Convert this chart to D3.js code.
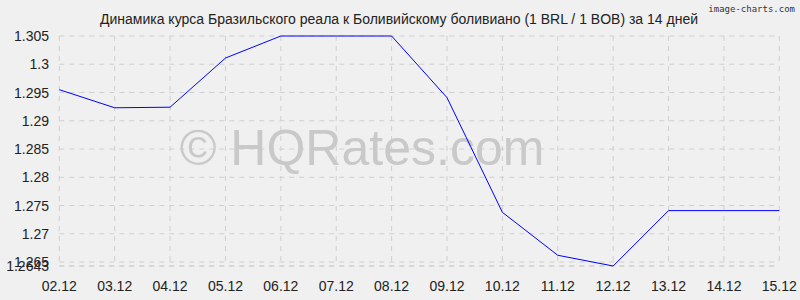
<!DOCTYPE html>
<meta charset="utf-8">
<style>
    body { margin: 0; background: #f0f0f0; }
    text { font-family: "Liberation Sans", Arial, sans-serif; }
    .grid line { stroke: #cfcfcf; stroke-dasharray: 5,5; }
</style>
<svg width="800" height="300"></svg>
<script src="https://cdn.jsdelivr.net/npm/d3@7"></script>
<script>

    var dates = ["02.12", "03.12", "04.12", "05.12", "06.12", "07.12", "08.12",
        "09.12", "10.12", "11.12", "12.12", "13.12", "14.12", "15.12"];
    var rates = [1.2955, 1.2923, 1.2924, 1.3011, 1.305, 1.305, 1.305,
        1.2941, 1.2738, 1.2662, 1.2643, 1.2741, 1.2741, 1.2741];
    var yTicks = [1.305, 1.3, 1.295, 1.29, 1.285, 1.28, 1.275, 1.27, 1.265, 1.2643];

    var svg = d3.select("svg");

    var x = d3.scalePoint().domain(dates).range([59.3, 779.3]);
    var y = d3.scaleLinear().domain([1.2643, 1.305]).range([266, 36]);

    svg.append("rect").attr("width", 800).attr("height", 300).attr("fill", "#f0f0f0");

    // grid
    var grid = svg.append("g").attr("class", "grid");
    grid.selectAll(".v").data(dates).enter().append("line")
        .attr("x1", function (d) { return x(d); })
        .attr("x2", function (d) { return x(d); })
        .attr("y1", 36).attr("y2", 266);
    grid.selectAll(".h").data(yTicks).enter().append("line")
        .attr("x1", 59.3).attr("x2", 779.3)
        .attr("y1", function (d) { return y(d); })
        .attr("y2", function (d) { return y(d); })
        .style("stroke", function (d, i) { return i == yTicks.length - 1 ? "#bdbdbd" : null; });

    // watermark
    svg.append("text")
        .attr("x", 362).attr("y", 165)
        .attr("text-anchor", "middle")
        .style("font-size", "50px")
        .style("fill", "#c9c9c9")
        .text("© HQRates.com");

    // y labels
    svg.append("g").selectAll("text").data(yTicks).enter().append("text")
        .attr("x", 49)
        .attr("y", function (d) { return y(d) + 5; })
        .attr("text-anchor", "end")
        .style("font-size", "14px")
        .style("fill", "#222")
        .text(function (d) { return d; });

    // x labels
    svg.append("g").selectAll("text").data(dates).enter().append("text")
        .attr("x", function (d) { return x(d); })
        .attr("y", 291)
        .attr("text-anchor", "middle")
        .style("font-size", "14px")
        .style("fill", "#222")
        .text(function (d) { return d; });

    var line = d3.line()
        .x(function (d, i) { return x(dates[i]); })
        .y(function (d) { return y(d); });

    svg.append("path")
        .datum(rates)
        .attr("d", line)
        .attr("fill", "none")
        .attr("stroke", "#0000ff")
        .attr("stroke-width", 1);

    svg.append("text")
        .attr("x", 399).attr("y", 24)
        .attr("text-anchor", "middle")
        .style("font-size", "14px")
        .style("fill", "#222")
        .text("Динамика курса Бразильского реала к Боливийскому боливиано (1 BRL / 1 BOB) за 14 дней");

    svg.append("text")
        .attr("x", 795).attr("y", 12)
        .attr("text-anchor", "end")
        .style("font-family", "'DejaVu Sans Mono', monospace")
        .style("font-size", "9px")
        .style("fill", "#333")
        .text("image-charts.com");

</script>
